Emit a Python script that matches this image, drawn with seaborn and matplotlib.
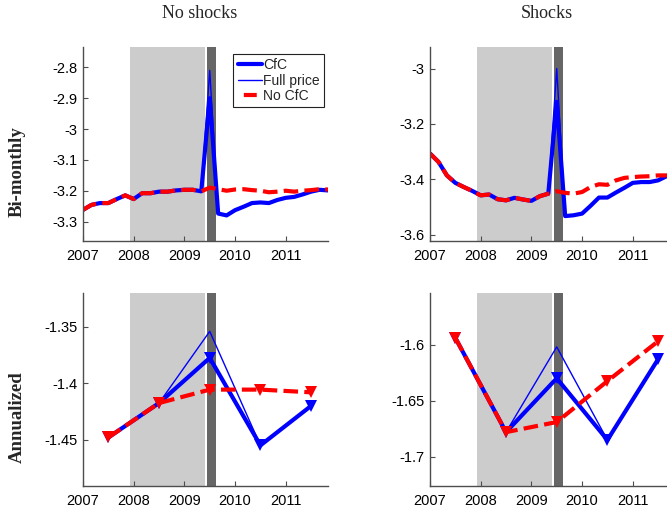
import numpy as np
import pandas as pd
import matplotlib
matplotlib.use("Agg")
import matplotlib.pyplot as plt
from matplotlib.lines import Line2D
from matplotlib.ticker import FixedLocator, FuncFormatter
import seaborn as sns

# ---- data -------------------------------------------------------------
# bi-monthly periods, Jan/Feb 2007 ... Nov/Dec 2011
bimonthly_t = [2007 + k / 6 for k in range(30)]

bm_noshock_cfc = [-3.262, -3.246, -3.240, -3.240, -3.227, -3.215, -3.227, -3.208,
                  -3.208, -3.203, -3.203, -3.199, -3.197, -3.197, -3.202, -2.900,
                  -3.274, -3.280, -3.263, -3.252, -3.240, -3.238, -3.240, -3.230,
                  -3.223, -3.220, -3.212, -3.203, -3.197, -3.199]
bm_noshock_full = [-3.262, -3.246, -3.240, -3.240, -3.227, -3.215, -3.227, -3.208,
                   -3.208, -3.203, -3.203, -3.199, -3.197, -3.197, -3.202, -2.810,
                   -3.274, -3.280, -3.263, -3.252, -3.240, -3.238, -3.240, -3.230,
                   -3.223, -3.220, -3.212, -3.203, -3.197, -3.199]
bm_noshock_nocfc = [-3.262, -3.246, -3.240, -3.240, -3.227, -3.215, -3.227, -3.208,
                    -3.208, -3.203, -3.203, -3.199, -3.197, -3.197, -3.202, -3.190,
                    -3.195, -3.200, -3.196, -3.195, -3.198, -3.200, -3.205, -3.203,
                    -3.200, -3.203, -3.200, -3.198, -3.195, -3.196]

bm_shock_cfc = [-3.307, -3.337, -3.386, -3.413, -3.428, -3.442, -3.458, -3.455,
                -3.472, -3.476, -3.467, -3.473, -3.478, -3.461, -3.452, -3.120,
                -3.533, -3.530, -3.524, -3.496, -3.466, -3.466, -3.448, -3.431,
                -3.413, -3.410, -3.410, -3.404, -3.389, -3.380]
bm_shock_full = [-3.307, -3.337, -3.386, -3.413, -3.428, -3.442, -3.458, -3.455,
                 -3.472, -3.476, -3.467, -3.473, -3.478, -3.461, -3.452, -3.000,
                 -3.533, -3.530, -3.524, -3.496, -3.466, -3.466, -3.448, -3.431,
                 -3.413, -3.410, -3.410, -3.404, -3.389, -3.380]
bm_shock_nocfc = [-3.307, -3.337, -3.386, -3.413, -3.428, -3.442, -3.458, -3.455,
                  -3.472, -3.476, -3.467, -3.473, -3.478, -3.461, -3.452, -3.443,
                  -3.449, -3.452, -3.446, -3.428, -3.418, -3.420, -3.404, -3.395,
                  -3.392, -3.390, -3.389, -3.386, -3.386, -3.385]

# annual values, plotted at mid-year
annual_t = [2007.5, 2008.5, 2009.5, 2010.5, 2011.5]
an_noshock_cfc = [-1.448, -1.4175, -1.3775, -1.455, -1.420]
an_noshock_full = [-1.448, -1.4175, -1.354, -1.455, -1.420]
an_noshock_nocfc = [-1.448, -1.4175, -1.4056, -1.4056, -1.408]

an_shock_cfc = [-1.594, -1.678, -1.630, -1.685, -1.613]
an_shock_full = [-1.594, -1.678, -1.602, -1.685, -1.613]
an_shock_nocfc = [-1.594, -1.678, -1.669, -1.6325, -1.597]

# recession and program windows
recession = (2007.92, 2009.41)
program = (2009.45, 2009.63)

col_titles = ["No shocks", "Shocks"]
row_titles = ["Bi-monthly", "Annualized"]
series_names = ["CfC", "Full price", "No CfC"]
x_ticks = [2007, 2008, 2009, 2010, 2011]
y_ticks = {
    (0, 0): [-3.3, -3.2, -3.1, -3.0, -2.9, -2.8],
    (0, 1): [-3.6, -3.4, -3.2, -3.0],
    (1, 0): [-1.45, -1.4, -1.35],
    (1, 1): [-1.7, -1.65, -1.6],
}
y_limits = {
    (0, 0): (-3.363, -2.734),
    (0, 1): (-3.623, -2.922),
    (1, 0): (-1.491, -1.320),
    (1, 1): (-1.726, -1.554),
}

# ---- style ------------------------------------------------------------
sns.set_theme(style="white")
plt.rcParams["font.family"] = ["Liberation Sans", "DejaVu Sans"]

W, H = 667, 514
fig = plt.figure(figsize=(W / 100, H / 100), dpi=100)

def frac_box(left, top, width, height):
    return [left / W, 1 - (top + height) / H, width / W, height / H]

positions = {
    (0, 0): frac_box(83, 47, 245, 194),
    (0, 1): frac_box(430, 47, 245, 194),
    (1, 0): frac_box(83, 293, 245, 193),
    (1, 1): frac_box(430, 293, 245, 193),
}

panels = {
    (0, 0): (bimonthly_t, bm_noshock_cfc, bm_noshock_full, bm_noshock_nocfc, None),
    (0, 1): (bimonthly_t, bm_shock_cfc, bm_shock_full, bm_shock_nocfc, None),
    (1, 0): (annual_t, an_noshock_cfc, an_noshock_full, an_noshock_nocfc, "v"),
    (1, 1): (annual_t, an_shock_cfc, an_shock_full, an_shock_nocfc, "v"),
}

BLUE = "#0000ff"
RED = "#ff0000"
AXC = "#4d4d4d"
DASH = (0, (3.5, 1.5))

fmt = FuncFormatter(lambda v, pos: "%g" % round(v, 4))

for key, (t, cfc, full, nocfc, marker) in panels.items():
    ax = fig.add_axes(positions[key])
    ax.axvspan(*recession, color="#cccccc", lw=0, zorder=0)
    ax.axvspan(*program, color="#666666", lw=0, zorder=0)

    df = pd.DataFrame({"t": t, "cfc": cfc, "full": full, "nocfc": nocfc})
    mk = {} if marker is None else dict(marker=marker, markersize=8.5,
                                        markeredgewidth=0)
    sns.lineplot(data=df, x="t", y="full", ax=ax, color=BLUE, linewidth=1.0,
                 sort=False, estimator=None, errorbar=None, zorder=2)
    sns.lineplot(data=df, x="t", y="cfc", ax=ax, color=BLUE, linewidth=3.0,
                 sort=False, estimator=None, errorbar=None, zorder=3, **mk)
    sns.lineplot(data=df, x="t", y="nocfc", ax=ax, color=RED, linewidth=3.0,
                 linestyle=DASH, sort=False, estimator=None, errorbar=None,
                 zorder=4, **mk)

    ax.set_xlim(2007, 2007 + 29 / 6)
    ax.set_ylim(*y_limits[key])
    ax.xaxis.set_major_locator(FixedLocator(x_ticks))
    ax.set_xticklabels([str(x) for x in x_ticks])
    ax.yaxis.set_major_locator(FixedLocator(y_ticks[key]))
    ax.yaxis.set_major_formatter(fmt)
    ax.set_xlabel("")
    ax.set_ylabel("")
    ax.grid(False)
    for side in ("top", "right"):
        ax.spines[side].set_visible(False)
    for side in ("left", "bottom"):
        ax.spines[side].set_color(AXC)
        ax.spines[side].set_linewidth(1.0)
        ax.spines[side].set_zorder(5)
    ax.tick_params(axis="both", which="major", direction="in", length=3.5,
                   width=0.8, color=AXC, labelsize=10.5, labelcolor="black")
    ax.tick_params(axis="x", pad=5.5, bottom=True)
    ax.tick_params(axis="y", pad=4, left=True)
    ax.set_facecolor("none")

    if key == (0, 0):
        handles = [
            Line2D([], [], color=BLUE, lw=3.0),
            Line2D([], [], color=BLUE, lw=1.0),
            Line2D([], [], color=RED, lw=3.0, linestyle=(4.4, (3.1, 2.7))),
        ]
        leg = ax.legend(handles, series_names, loc="upper right",
                        bbox_to_anchor=(0.984, 0.964), borderaxespad=0,
                        fontsize=10, handlelength=1.75, handletextpad=0.1,
                        labelspacing=0.1, borderpad=0.3, fancybox=False,
                        framealpha=1, edgecolor="#222222")
        leg.get_frame().set_linewidth(0.8)
    else:
        lg = ax.get_legend()
        if lg is not None:
            lg.remove()

# column and row headings
serif = ["Liberation Serif", "DejaVu Serif"]
fig.text(200 / W, 1 - 14 / H, col_titles[0], ha="center", va="center",
         fontsize=13, family=serif)
fig.text(547 / W, 1 - 14 / H, col_titles[1], ha="center", va="center",
         fontsize=13, family=serif)
fig.text(17 / W, 1 - 171.5 / H, row_titles[0], ha="center", va="center",
         rotation=90, fontsize=13.5, fontweight="bold", family=serif)
fig.text(17.5 / W, 1 - 417.5 / H, row_titles[1], ha="center", va="center",
         rotation=90, fontsize=13.5, fontweight="bold", family=serif)

fig.savefig("out.png", dpi=100)
